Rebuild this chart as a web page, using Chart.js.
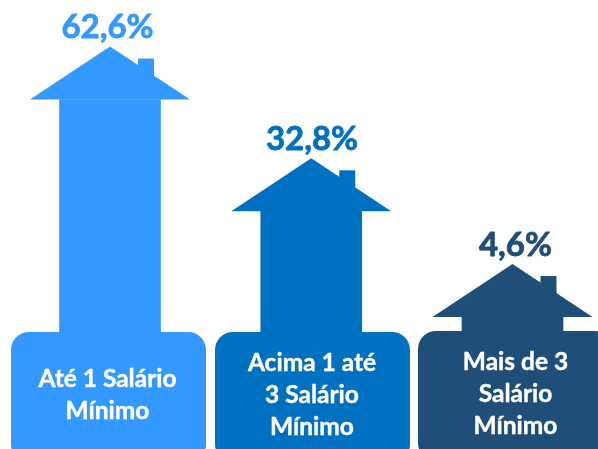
<!DOCTYPE html>
<html><head><meta charset="utf-8">
<style>html,body{margin:0;padding:0;background:#fff;overflow:hidden}#w{width:598px;height:449px;position:relative}</style>
<script src="https://cdn.jsdelivr.net/npm/chart.js@4"></script>
</head><body><div id="w"><canvas id="c" width="598" height="449"></canvas></div>
<script>
const categories = ["Até 1 Salário Mínimo", "Acima 1 até 3 Salário Mínimo", "Mais de 3 Salário Mínimo"];
const shares = [62.6, 32.8, 4.6];
const shareLabels = ["62,6%", "32,8%", "4,6%"];
const categoryLines = [["Até 1 Salário", "Mínimo"], ["Acima 1 até", "3 Salário", "Mínimo"], ["Mais de 3", "Salário", "Mínimo"]];
const colors = ["#3399FF", "#0070C0", "#1F4E79"];

const houses = {
  id: "houses",
  afterDatasetsDraw(chart) {
    const ctx = chart.ctx, meta = chart.getDatasetMeta(0);
    const boxes = [[11, 332, 195], [215, 332, 195], [418, 331, 195]];
    const labelX = [107.5, 312, 515.5];
    const firstBase = [387, 371, 370];
    meta.data.forEach((bar, i) => {
      const x = bar.x, y = bar.y;
      ctx.fillStyle = colors[i];
      // roof
      ctx.beginPath();
      ctx.moveTo(x - 80, y);
      ctx.lineTo(x, y - 53);
      ctx.lineTo(x + 80, y);
      ctx.closePath();
      ctx.fill();
      // chimney
      ctx.fillRect(x + 28, y - 41, 16, 30);
      // label box
      ctx.beginPath();
      ctx.roundRect(boxes[i][0], boxes[i][1], boxes[i][2], 130, 18);
      ctx.fill();
      // value label
      ctx.textAlign = "center";
      ctx.textBaseline = "alphabetic";
      ctx.lineJoin = "round";
      ctx.font = "bold 33px Lato";
      ctx.strokeStyle = colors[i];
      ctx.lineWidth = 0.8;
      ctx.fillText(shareLabels[i], labelX[i], y - 61.5);
      ctx.strokeText(shareLabels[i], labelX[i], y - 61.5);
      // category label
      ctx.fillStyle = "#fff";
      ctx.strokeStyle = "#fff";
      ctx.lineWidth = 0.4;
      ctx.font = "bold 24.5px Lato";
      categoryLines[i].forEach((t, k) => {
        ctx.fillText(t, labelX[i], firstBase[i] + k * 32);
        ctx.strokeText(t, labelX[i], firstBase[i] + k * 32);
      });
    });
  }
};

new Chart(document.getElementById("c"), {
  type: "bar",
  data: { labels: categories, datasets: [{ data: shares, backgroundColor: colors, borderWidth: 0, barThickness: 101, clip: false }] },
  options: {
    responsive: false, animation: false,
    layout: { padding: { left: 110, right: 85.5, top: 0, bottom: 114.7 } },
    plugins: { legend: { display: false }, tooltip: { enabled: false } },
    scales: {
      x: { display: false, offset: false },
      y: { display: false, min: 0, max: 89.15 }
    }
  },
  plugins: [houses]
});
</script></body></html>
